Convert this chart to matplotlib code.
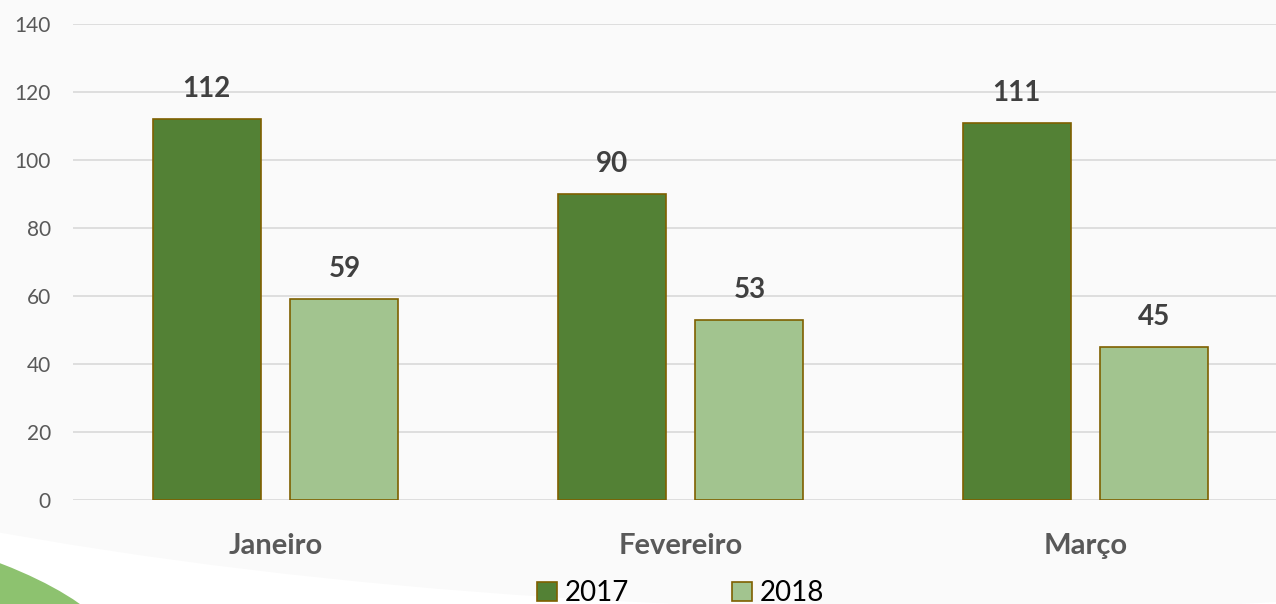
import numpy as np
import matplotlib.pyplot as plt
from matplotlib.patches import Ellipse, Patch

months = ["Janeiro", "Fevereiro", "Março"]
series_2017 = [112, 90, 111]
series_2018 = [59, 53, 45]
years = ["2017", "2018"]
y_ticks = [0, 20, 40, 60, 80, 100, 120, 140]

dark_green = "#538135"
light_green = "#A2C48F"
edge = "#7F6000"

plt.rcParams['font.family'] = ['Lato', 'DejaVu Sans']

fig = plt.figure(figsize=(12.76, 6.04), dpi=100)
fig.patch.set_facecolor("white")

# background: big light grey ellipse, green swoosh in the lower left corner
fig.patches.append(Ellipse((0.75, 0.69), 2.6, 1.4, transform=fig.transFigure,
                           facecolor="#FAFAFA", edgecolor="none", zorder=-3))
fig.patches.append(Ellipse((-0.4, -0.116), 1.0, 0.612, transform=fig.transFigure,
                           facecolor="#8DC26F", edgecolor="none", zorder=-2))

ax = fig.add_axes([73 / 1276, 104 / 604, 1203 / 1276, 476 / 604])
ax.set_facecolor("none")

x = np.arange(len(months))
w = 0.267
off = 0.17
b1 = ax.bar(x - off, series_2017, w, color=dark_green, edgecolor=edge, linewidth=1.2, zorder=3)
b2 = ax.bar(x + off, series_2018, w, color=light_green, edgecolor=edge, linewidth=1.2, zorder=3)

for bars, vals in ((b1, series_2017), (b2, series_2018)):
    for r, v in zip(bars, vals):
        ax.text(r.get_x() + r.get_width() / 2, v + 5, str(v), ha="center", va="bottom",
                fontsize=20, fontweight="bold", color="#404040")

ax.set_xlim(-0.5, -0.5 + 1203 / 405)
ax.set_ylim(0, 140)
ax.set_yticks(y_ticks)
ax.yaxis.grid(True, color="#D9D9D9", linewidth=1.2, zorder=0)
ax.set_xticks(x)
ax.set_xticklabels(months, fontsize=21, fontweight="bold", color="#595959")
ax.tick_params(axis="x", length=0, pad=24)
ax.tick_params(axis="y", length=0, labelsize=15, labelcolor="#595959", pad=16)
for s in ax.spines.values():
    s.set_visible(False)

handles = [Patch(facecolor=dark_green, edgecolor=edge, linewidth=1.2),
           Patch(facecolor=light_green, edgecolor=edge, linewidth=1.2)]
fig.legend(handles, years, loc="lower center", bbox_to_anchor=(681 / 1276, -0.045), ncol=2,
           frameon=False, fontsize=20, handlelength=0.7, handleheight=0.7,
           handletextpad=0.3, columnspacing=3.7)

fig.savefig("out.png", dpi=100, facecolor=fig.get_facecolor())
